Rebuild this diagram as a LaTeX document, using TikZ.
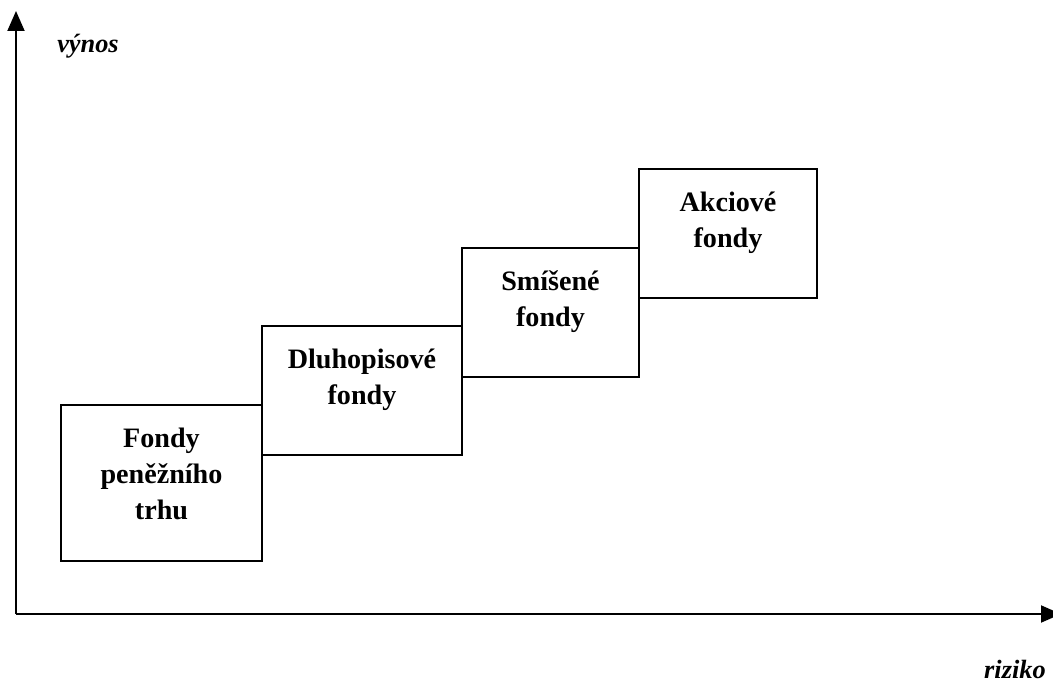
\documentclass[tikz,border=0pt]{standalone}
\usepackage{fontspec}
\setmainfont{Liberation Serif}
\usepackage{tikz}
\usetikzlibrary{arrows.meta,positioning}

\begin{document}
\begin{tikzpicture}
\tikzstyle{fund}=[rectangle,draw,line width=1.1pt,inner sep=0pt,outer sep=0pt]
\tikzstyle{fundtext}=[anchor=north,yshift=-0.45cm,align=center,inner sep=0pt,font=\fontsize{16}{20.5}\selectfont\bfseries]
\tikzstyle{axis}=[line width=1.1pt,-{Triangle[length=0.4cm,width=0.34cm]}]
\tikzstyle{axislabel}=[anchor=base,inner sep=0pt,font=\fontsize{15}{18}\selectfont\bfseries\itshape]

\useasboundingbox (0,0) rectangle (21.06,13.64);

\coordinate (origin) at (0.32,1.36);
\coordinate (ytop) at (0.32,13.42);
\coordinate (xend) at (21.22,1.36);
\draw[axis] (origin) -- (ytop);
\draw[axis] (origin) -- (xend);
\node[axislabel] (vynos) at (1.76,12.58) {výnos};
\node[axislabel] (riziko) at (20.3,0.08) {riziko};

\node[fund,minimum width=4.02cm,minimum height=3.12cm,anchor=south west,
  label={[fundtext]north:Fondy\\peněžního\\trhu}] (trh) at (1.22,2.42) {};
\node[fund,minimum width=4.0cm,minimum height=2.58cm,anchor=north west,
  label={[fundtext]north:Dluhopisové\\fondy}] (dluhopis) at ([yshift=1.58cm]trh.north east) {};
\node[fund,minimum width=3.54cm,minimum height=2.58cm,anchor=north west,
  label={[fundtext]north:Smíšené\\fondy}] (smiseny) at ([yshift=1.56cm]dluhopis.north east) {};
\node[fund,minimum width=3.56cm,minimum height=2.58cm,anchor=north west,
  label={[fundtext]north:Akciové\\fondy}] (akcie) at ([yshift=1.58cm]smiseny.north east) {};
\end{tikzpicture}
\end{document}
